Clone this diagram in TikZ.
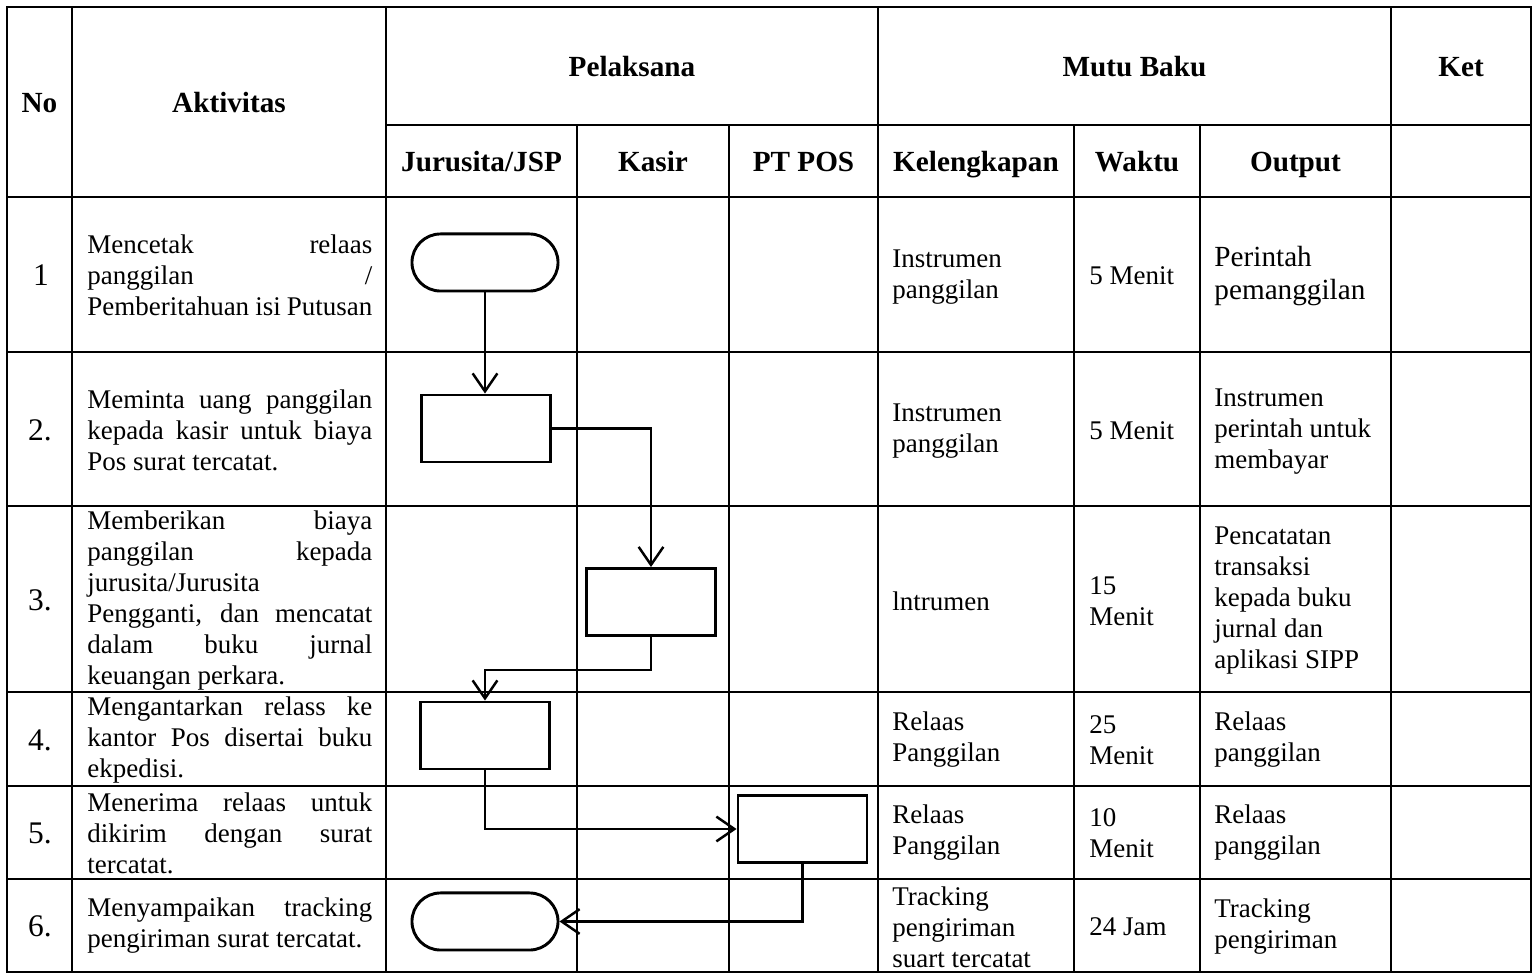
\documentclass[tikz,border=0pt]{standalone}
\usepackage{fontspec}
\setmainfont{Liberation Serif}
\usetikzlibrary{arrows.meta}
\hyphenpenalty=10000
\exhyphenpenalty=10000
\tolerance=10000
\hbadness=10000

\begin{document}
\begin{tikzpicture}[x=0.445pt, y=-0.445pt, >={Straight Barb[length=8pt,width=11pt,line width=1.1pt]},
    grid/.style={line width=0.6pt},
    head/.style={anchor=base, inner sep=0pt, font=\fontsize{13}{15}\selectfont\bfseries},
    numcell/.style={inner sep=0pt, font=\fontsize{14}{16}\selectfont},
    actcell/.style={anchor=west, inner sep=0pt, text width=126.8pt, align=justify, font=\fontsize{12}{13.8}\selectfont},
    cell/.style={anchor=west, inner sep=0pt, align=left, font=\fontsize{12}{13.8}\selectfont},
    term/.style={draw, line width=1.3pt, rounded corners=12.7pt, minimum width=65pt, minimum height=25.4pt},
    proc/.style={draw, line width=1.3pt, minimum width=57.4pt, minimum height=29.8pt},
    flow/.style={->, line width=1.1pt}]
  \useasboundingbox (0,0) rectangle (1533,973);

  % table grid
  \draw[grid] (7,7) rectangle (1531,972);
  \foreach \y in {197,352,506,692,786,879}
    \draw[grid] (7,\y) -- (1531,\y);
  \draw[grid] (386,125) -- (1531,125);
  \foreach \x in {72,386,878,1391}
    \draw[grid] (\x,7) -- (\x,972);
  \foreach \x in {577,729,1074,1200}
    \draw[grid] (\x,125) -- (\x,972);

  % header
  \node[head] (hno) at (39.5,113) {No};
  \node[head] (hakt) at (229,113) {Aktivitas};
  \node[head] (hpel) at (632,77) {Pelaksana};
  \node[head] (hmutu) at (1134.5,77) {Mutu Baku};
  \node[head] (hket) at (1461,77) {Ket};
  \node[head] (hjsp) at (481.5,172) {Jurusita/JSP};
  \node[head] (hkas) at (653,172) {Kasir};
  \node[head] (hpos) at (803.5,172) {PT POS};
  \node[head] (hkel) at (976,172) {Kelengkapan};
  \node[head] (hwak) at (1137,172) {Waktu};
  \node[head] (hout) at (1295.5,172) {Output};

  % nomor
  \node[numcell] (n1) at (41,275) {1};
  \node[numcell] (n2) at (40,430) {2.};
  \node[numcell] (n3) at (40,600) {3.};
  \node[numcell] (n4) at (40,740) {4.};
  \node[numcell] (n5) at (40,833) {5.};
  \node[numcell] (n6) at (40,926) {6.};

  % aktivitas
  \node[actcell] (a1) at (87,275) {Mencetak relaas\linebreak panggilan /\linebreak Pemberitahuan isi Putusan};
  \node[actcell] (a2) at (87,430) {Meminta uang panggilan\linebreak kepada kasir untuk biaya\linebreak Pos surat tercatat.};
  \node[actcell] (a3) at (87,601) {Memberikan biaya\linebreak panggilan kepada\linebreak jurusita/Jurusita\linebreak Pengganti, dan mencatat\linebreak dalam buku jurnal\linebreak keuangan perkara.};
  \node[actcell] (a4) at (87,740) {Mengantarkan relass ke\linebreak kantor Pos disertai buku\linebreak ekpedisi.};
  \node[actcell] (a5) at (87,833) {Menerima relaas untuk\linebreak dikirim dengan surat\linebreak tercatat.};
  \node[actcell] (a6) at (87,926) {Menyampaikan tracking\linebreak pengiriman surat tercatat.};

  % kelengkapan
  \node[cell] (k1) at (892,277) {Instrumen\\panggilan};
  \node[cell] (k2) at (892,431) {Instrumen\\panggilan};
  \node[cell] (k3) at (892,601) {lntrumen};
  \node[cell] (k4) at (892,740) {Relaas\\Panggilan};
  \node[cell] (k5) at (892,833) {Relaas\\Panggilan};
  \node[cell] (k6) at (892,927) {Tracking\\pengiriman\\suart tercatat};

  % waktu
  \node[cell] (w1) at (1089,276) {5 Menit};
  \node[cell] (w2) at (1089,431) {5 Menit};
  \node[cell] (w3) at (1089,601) {15\\Menit};
  \node[cell] (w4) at (1089,740) {25\\Menit};
  \node[cell] (w5) at (1089,833) {10\\Menit};
  \node[cell] (w6) at (1089,927) {24 Jam};

  % output
  \node[cell, font=\fontsize{13}{15}\selectfont] (o1) at (1214,276) {Perintah\\pemanggilan};
  \node[cell] (o2) at (1214,432) {Instrumen\\perintah untuk\\membayar};
  \node[cell] (o3) at (1214,601) {Pencatatan\\transaksi\\kepada buku\\jurnal dan\\aplikasi SIPP};
  \node[cell] (o4) at (1214,740) {Relaas\\panggilan};
  \node[cell] (o5) at (1214,833) {Relaas\\panggilan};
  \node[cell] (o6) at (1214,927) {Tracking\\pengiriman};

  % alur
  \node[term] (t1) at (485,262.5) {};
  \node[proc] (b2) at (486,428.5) {};
  \node[proc] (b3) at (651,602) {};
  \node[proc] (b4) at (485,735.5) {};
  \node[proc] (b5) at (802.5,829) {};
  \node[term] (t6) at (485,921.5) {};

  \draw[flow] (t1.south) -- (t1.south |- b2.north);
  \draw[flow] (b2.east) -| (b3.north);
  \draw[flow] (b3.south) -- ++(0,33) -| (b4.north);
  \draw[flow] (b4.south) |- (b5.west);
  \draw[flow] (b5.south) |- (t6.east);
\end{tikzpicture}
\end{document}
